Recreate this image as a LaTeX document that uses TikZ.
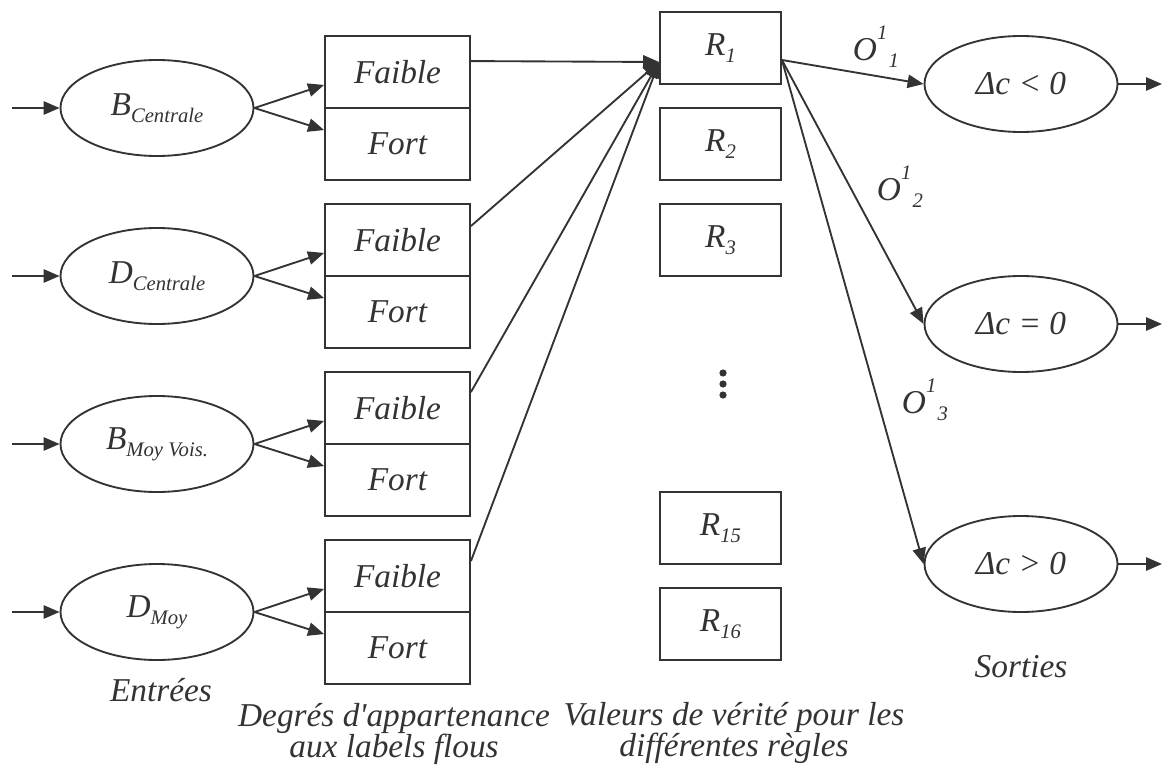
\documentclass[tikz,border=0pt]{standalone}
\usepackage{fontspec}
\setmainfont{Liberation Serif}[ItalicFont={Liberation Serif Italic}]
\usetikzlibrary{arrows.meta,shapes.geometric,calc}
\definecolor{ink}{RGB}{51,51,51}
\newcommand{\subt}[1]{\raisebox{-0.22em}{\fontsize{15.5}{15.5}\selectfont #1}}
\newcommand{\supt}[1]{\raisebox{0.62em}{\fontsize{15.5}{15.5}\selectfont #1}}
\begin{document}
\begin{tikzpicture}[x=0.75pt,y=-0.75pt,
  every node/.style={font=\fontsize{25}{28}\selectfont\itshape, text=ink},
  conn/.style={draw=ink, line width=1.4pt},
  arr/.style={conn, -{Triangle[length=12pt,width=10pt]}},
  inbox/.style={draw=ink, line width=1.4pt, rectangle, minimum width=108.75pt, minimum height=54pt, inner sep=0pt},
  rbox/.style={draw=ink, line width=1.4pt, rectangle, minimum width=90.75pt, minimum height=54pt, inner sep=0pt},
  oval/.style={draw=ink, line width=1.4pt, ellipse, minimum width=144.75pt, minimum height=72pt, inner sep=0pt},
  dot/.style={circle, fill=ink, inner sep=0pt, minimum size=5.4pt},
]
\useasboundingbox (0,0) rectangle (1162,767);

% input ellipses
\node[oval] (e1) at (157,108) {B\subt{Centrale}};
\node[oval] (e2) at (157,276) {D\subt{Centrale}};
\node[oval] (e3) at (157,444) {B\subt{Moy Vois.}};
\node[oval] (e4) at (157,612) {D\subt{Moy}};

\foreach \i/\y in {1/108,2/276,3/444,4/612}{
  \coordinate (i\i) at (12,\y);
  \draw[arr] (i\i) -- (e\i.west);
}

% fuzzy label boxes
\node[inbox] (f1) at (397.5,72) {Faible};
\node[inbox] (g1) at (397.5,144) {Fort};
\node[inbox] (f2) at (397.5,240) {Faible};
\node[inbox] (g2) at (397.5,312) {Fort};
\node[inbox] (f3) at (397.5,408) {Faible};
\node[inbox] (g3) at (397.5,480) {Fort};
\node[inbox] (f4) at (397.5,576) {Faible};
\node[inbox] (g4) at (397.5,648) {Fort};

\foreach \i in {1,2,3,4}{
  \draw[arr] (e\i.east) -- ($(f\i.south west)+(0,-24)$);
  \draw[arr] (e\i.east) -- ($(g\i.north west)+(0,23)$);
}

% rule boxes
\node[rbox] (r1) at (720.5,48) {R\subt{1}};
\node[rbox] (r2) at (720.5,144) {R\subt{2}};
\node[rbox] (r3) at (720.5,240) {R\subt{3}};
\node[rbox] (r15) at (720.5,528) {R\subt{15}};
\node[rbox] (r16) at (720.5,624) {R\subt{16}};

\node[dot] (d1) at (723,373) {};
\node[dot] (d2) at (723,384) {};
\node[dot] (d3) at (723,395) {};

\coordinate (r1in) at ($(r1.west)+(0,14)$);
\coordinate (r1out) at ($(r1.east)+(0,12)$);
\draw[arr] ($(f1.north east)+(0,26)$) -- (r1in);
\draw[arr] ($(f2.north east)+(0,23)$) -- (r1in);
\draw[arr] ($(f3.north east)+(0,21)$) -- (r1in);
\draw[arr] ($(f4.north east)+(0,22)$) -- (r1in);

% outputs
\node[oval] (o1) at (1021,84) {Δc < 0};
\node[oval] (o2) at (1021,324) {Δc = 0};
\node[oval] (o3) at (1021,564) {Δc > 0};

\draw[arr] (r1out) -- (o1.west);
\draw[arr] (r1out) -- (o2.west);
\draw[arr] (r1out) -- (o3.west);

\foreach \i/\y in {1/84,2/324,3/564}{
  \coordinate (x\i) at (1162,\y);
  \draw[arr] (o\i.east) -- (x\i);
}

\node (l1) at (876,47) {O\supt{1}\hspace{1pt}\subt{1}};
\node (l2) at (900,187) {O\supt{1}\hspace{1pt}\subt{2}};
\node (l3) at (925,400) {O\supt{1}\hspace{1pt}\subt{3}};

% captions
\node (t1) at (161,690) {Entrées};
\node (t2) at (394,718) {Degrés d\textquotesingle appartenance};
\node (t3) at (394,749) {aux labels flous};
\node (t4) at (734,717) {Valeurs de vérité pour les};
\node (t5) at (734,748) {différentes règles};
\node (t6) at (1021,667) {Sorties};
\end{tikzpicture}
\end{document}
